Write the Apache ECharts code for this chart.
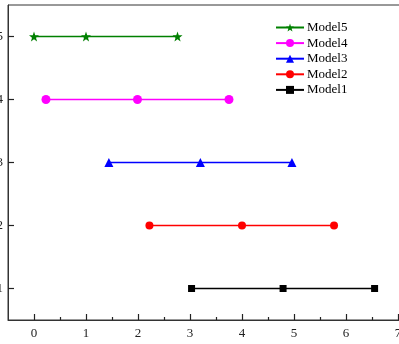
<!DOCTYPE html>
<html>
<head>
<meta charset="utf-8">
<script src="https://cdn.jsdelivr.net/npm/echarts@6/dist/echarts.min.js"></script>
<style>html,body{margin:0;padding:0;background:#fff}#c{width:399px;height:344px}</style>
</head>
<body>
<div id="c"></div>
<script>
const seriesNames = ['Model5', 'Model4', 'Model3', 'Model2', 'Model1'];
const yLevels = [5, 4, 3, 2, 1];
const model5 = [0, 1.0, 2.76];
const model4 = [0.23, 1.99, 3.75];
const model3 = [1.44, 3.2, 4.96];
const model2 = [2.22, 4.0, 5.77];
const model1 = [3.03, 4.79, 6.55];
const xTicks = [0, 1, 2, 3, 4, 5, 6, 7];
const xMinorTicks = [0.5, 1.5, 2.5, 3.5, 4.5, 5.5, 6.5, 7.5];
const yTicks = [1, 2, 3, 4, 5];

const values = [model5, model4, model3, model2, model1];
const colors = ['#008000', '#ff00ff', '#0000ff', '#ff0000', '#000000'];
const symbols = ['path://M0,-10 L2.35,-3.24 L9.51,-3.09 L3.8,1.24 L5.88,8.09 L0,4 L-5.88,8.09 L-3.8,1.24 L-9.51,-3.09 L-2.35,-3.24 Z', 'circle', 'triangle', 'circle', 'rect'];
const sizes = [10, 9, 9, 8, 7];

const font = 'Liberation Serif';
const tickStyle = {color: '#222', width: 1.2};
const chart = echarts.init(document.getElementById('c'), null, {renderer: 'canvas'});
chart.setOption({
  animation: false,
  backgroundColor: '#fff',
  grid: {left: 8, top: 5, width: 416, height: 315, containLabel: false, outerBoundsMode: 'none',
         show: true, borderColor: '#333', borderWidth: 1},
  legend: {
    orient: 'vertical', left: 270, top: 16,
    itemWidth: 28, itemHeight: 10, itemGap: 2.6,
    textStyle: {fontFamily: font, fontSize: 13, color: '#000', padding: [0, 0, 0, -2]},
    data: seriesNames
  },
  xAxis: [{
    type: 'value', min: -0.5, max: 7.5,
    axisLine: {show: true, onZero: false, lineStyle: {color: '#333', width: 1}},
    splitLine: {show: false},
    axisTick: {show: true, inside: true, length: 6, customValues: xTicks, lineStyle: tickStyle},
    axisLabel: {customValues: xTicks, margin: 7, fontFamily: font, fontSize: 13, color: '#222'}
  }, {
    type: 'value', min: -0.5, max: 7.5, position: 'bottom',
    axisLine: {show: false, onZero: false},
    splitLine: {show: false},
    axisTick: {show: true, inside: true, length: 3, customValues: xMinorTicks, lineStyle: tickStyle},
    axisLabel: {show: false}
  }],
  yAxis: {
    type: 'value', min: 0.5, max: 5.5, position: 'left',
    axisLine: {show: true, onZero: false, lineStyle: {color: '#333', width: 1}},
    splitLine: {show: false},
    axisTick: {show: true, inside: true, length: 6, customValues: yTicks, lineStyle: tickStyle},
    axisLabel: {customValues: yTicks, margin: 5, fontFamily: font, fontSize: 13, color: '#222'}
  },
  series: seriesNames.map((n, i) => ({
    name: n, type: 'line', xAxisIndex: 0,
    data: values[i].map(v => [v, yLevels[i]]),
    symbol: symbols[i], symbolSize: sizes[i], showSymbol: true,
    itemStyle: {color: colors[i]},
    lineStyle: {color: colors[i], width: 1.5}
  }))
});
</script>
</body>
</html>
